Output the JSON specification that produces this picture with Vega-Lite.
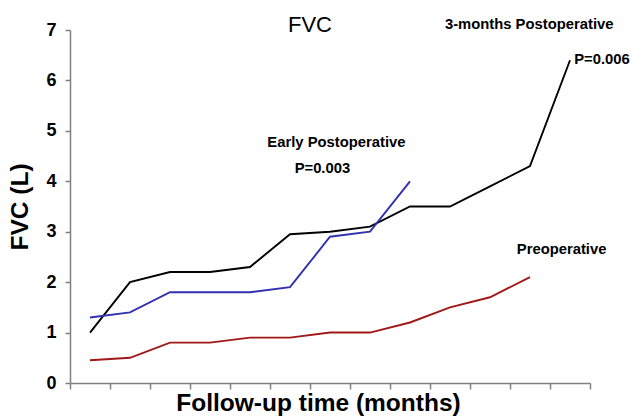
{
  "$schema": "https://vega.github.io/schema/vega-lite/v6.json",
  "width": 520,
  "height": 353,
  "autosize": {"type": "none"},
  "padding": {"left": 70, "top": 30, "right": 43, "bottom": 36},
  "background": "white",
  "config": {
    "view": {"stroke": null},
    "font": "Liberation Sans",
    "axis": {"grid": false, "domainColor": "#808080", "tickColor": "#808080", "domainWidth": 1.5, "tickWidth": 1.5}
  },
  "datasets": {
    "series": [
      {"t": 1, "v": 1.0, "s": "3-months Postoperative"},
      {"t": 2, "v": 2.0, "s": "3-months Postoperative"},
      {"t": 3, "v": 2.2, "s": "3-months Postoperative"},
      {"t": 4, "v": 2.2, "s": "3-months Postoperative"},
      {"t": 5, "v": 2.3, "s": "3-months Postoperative"},
      {"t": 6, "v": 2.95, "s": "3-months Postoperative"},
      {"t": 7, "v": 3.0, "s": "3-months Postoperative"},
      {"t": 8, "v": 3.1, "s": "3-months Postoperative"},
      {"t": 9, "v": 3.5, "s": "3-months Postoperative"},
      {"t": 10, "v": 3.5, "s": "3-months Postoperative"},
      {"t": 11, "v": 3.9, "s": "3-months Postoperative"},
      {"t": 12, "v": 4.3, "s": "3-months Postoperative"},
      {"t": 13, "v": 6.4, "s": "3-months Postoperative"},
      {"t": 1, "v": 1.3, "s": "Early Postoperative"},
      {"t": 2, "v": 1.4, "s": "Early Postoperative"},
      {"t": 3, "v": 1.8, "s": "Early Postoperative"},
      {"t": 4, "v": 1.8, "s": "Early Postoperative"},
      {"t": 5, "v": 1.8, "s": "Early Postoperative"},
      {"t": 6, "v": 1.9, "s": "Early Postoperative"},
      {"t": 7, "v": 2.9, "s": "Early Postoperative"},
      {"t": 8, "v": 3.0, "s": "Early Postoperative"},
      {"t": 9, "v": 4.0, "s": "Early Postoperative"},
      {"t": 1, "v": 0.45, "s": "Preoperative"},
      {"t": 2, "v": 0.5, "s": "Preoperative"},
      {"t": 3, "v": 0.8, "s": "Preoperative"},
      {"t": 4, "v": 0.8, "s": "Preoperative"},
      {"t": 5, "v": 0.9, "s": "Preoperative"},
      {"t": 6, "v": 0.9, "s": "Preoperative"},
      {"t": 7, "v": 1.0, "s": "Preoperative"},
      {"t": 8, "v": 1.0, "s": "Preoperative"},
      {"t": 9, "v": 1.2, "s": "Preoperative"},
      {"t": 10, "v": 1.5, "s": "Preoperative"},
      {"t": 11, "v": 1.7, "s": "Preoperative"},
      {"t": 12, "v": 2.1, "s": "Preoperative"}
    ],
    "notes": [
      {"t": 11.98, "v": 7.09, "label": "3-months Postoperative"},
      {"t": 13.8, "v": 6.4, "label": "P=0.006"},
      {"t": 7.16, "v": 4.76, "label": "Early Postoperative"},
      {"t": 6.81, "v": 4.24, "label": "P=0.003"},
      {"t": 12.79, "v": 2.63, "label": "Preoperative"}
    ],
    "head": [
      {"t": 6.5, "v": 7.1, "label": "FVC"}
    ]
  },
  "layer": [
    {
      "data": {"name": "series"},
      "mark": {"type": "line", "strokeWidth": 1.9, "clip": false},
      "encoding": {
        "x": {
          "field": "t", "type": "quantitative",
          "scale": {"domain": [0.5, 13.5], "nice": false, "zero": false},
          "axis": {
            "values": [0.5, 1.5, 2.5, 3.5, 4.5, 5.5, 6.5, 7.5, 8.5, 9.5, 10.5, 11.5, 12.5, 13.5],
            "tickCount": 30,
            "labels": false, "labelOverlap": false, "tickSize": 6, "tickRound": true,
            "title": "Follow-up time (months)", "titleFontSize": 24.5, "titleFontWeight": "bold",
            "titleColor": "black", "titlePadding": 2, "titleX": 248
          }
        },
        "y": {
          "field": "v", "type": "quantitative",
          "scale": {"domain": [0, 7], "nice": false},
          "axis": {
            "values": [0, 1, 2, 3, 4, 5, 6, 7], "format": "d", "tickSize": 5, "labelOverlap": false,
            "labelFontSize": 18, "labelFontWeight": "bold", "labelColor": "black", "labelPadding": 9,
            "title": "FVC (L)", "titleFontSize": 24.5, "titleFontWeight": "bold", "titleColor": "black",
            "titlePadding": 13
          }
        },
        "color": {
          "field": "s", "type": "nominal",
          "scale": {"domain": ["3-months Postoperative", "Early Postoperative", "Preoperative"], "range": ["#000000", "#3030b0", "#a01818"]},
          "legend": null
        }
      }
    },
    {
      "data": {"name": "notes"},
      "mark": {"type": "text", "fontSize": 14.8, "fontWeight": "bold", "color": "black", "align": "center", "baseline": "middle", "clip": false},
      "encoding": {
        "x": {"field": "t", "type": "quantitative"},
        "y": {"field": "v", "type": "quantitative"},
        "text": {"field": "label"}
      }
    },
    {
      "data": {"name": "head"},
      "mark": {"type": "text", "fontSize": 22, "color": "black", "align": "center", "baseline": "middle", "clip": false},
      "encoding": {
        "x": {"field": "t", "type": "quantitative"},
        "y": {"field": "v", "type": "quantitative"},
        "text": {"field": "label"}
      }
    }
  ]
}
